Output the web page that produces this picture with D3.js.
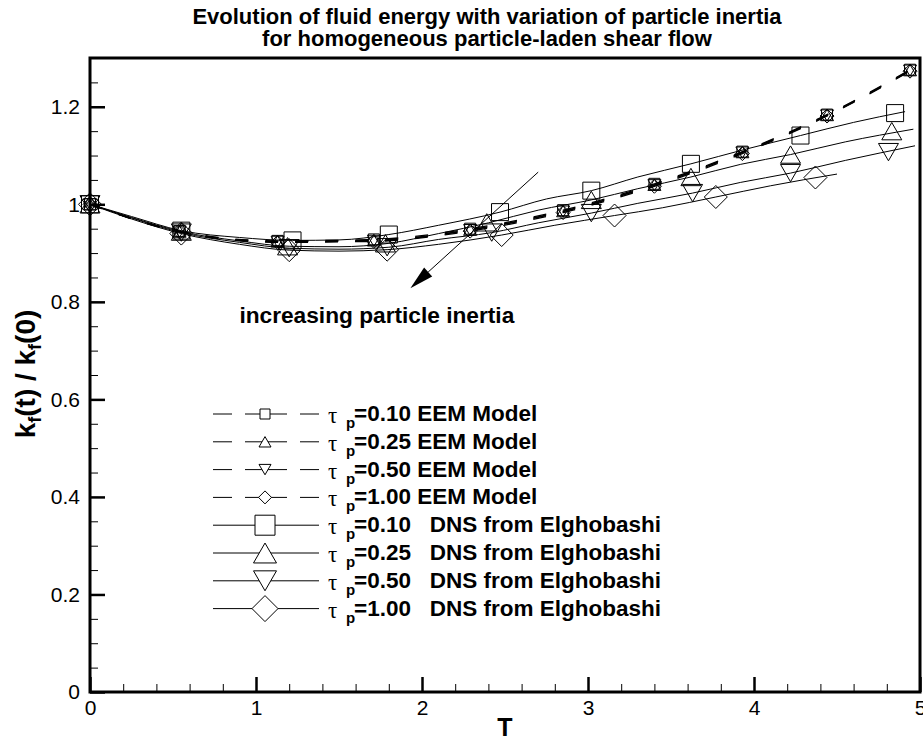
<!DOCTYPE html>
<meta charset="utf-8">
<script src="https://d3js.org/d3.v7.min.js"></script>
<style>
  body { margin: 0; background: #fff; }
  text { font-family: "Liberation Sans", Arial, Helvetica, sans-serif; }
</style>
<div id="chart"></div>
<script>
    // Title and axis text
    const titleLines = ["Evolution of fluid energy with variation of particle inertia",
                        "for homogeneous particle-laden shear flow"];
    const xTicks = [0, 1, 2, 3, 4, 5];
    const yTicks = [0, 0.2, 0.4, 0.6, 0.8, 1, 1.2];
    const yTickLabels = ["0", "0.2", "0.4", "0.6", "0.8", "1", "1.2"];

    // EEM model curves (all sampled at the same times, markers on every point)
    const T_eem   = [0, 0.54, 1.13, 1.71, 2.29, 2.85, 3.40, 3.93, 4.44, 4.94];
    const eem_010 = [1.0, 0.945, 0.925, 0.928, 0.950, 0.988, 1.042, 1.108, 1.184, 1.276];
    const eem_025 = [1.0, 0.944, 0.924, 0.926, 0.948, 0.986, 1.040, 1.107, 1.183, 1.275];
    const eem_050 = [1.0, 0.944, 0.923, 0.925, 0.947, 0.985, 1.039, 1.106, 1.182, 1.274];
    const eem_100 = [1.0, 0.943, 0.922, 0.924, 0.945, 0.983, 1.037, 1.104, 1.181, 1.273];

    // DNS from Elghobashi - lines
    const T_dns_010 = [0, 0.25, 0.55, 0.9, 1.22, 1.5, 1.8, 2.1, 2.47, 2.75, 3.02, 3.3, 3.62, 3.95, 4.28, 4.6, 4.91];
    const dns_010   = [1.0, 0.975, 0.946, 0.932, 0.926, 0.927, 0.938, 0.957, 0.984, 1.011, 1.028, 1.056, 1.083, 1.113, 1.141, 1.168, 1.190];
    const T_dns_025 = [0, 0.25, 0.55, 0.9, 1.2, 1.5, 1.8, 2.1, 2.4, 2.7, 3.02, 3.3, 3.62, 3.92, 4.22, 4.55, 4.96];
    const dns_025   = [1.0, 0.973, 0.944, 0.925, 0.914, 0.913, 0.920, 0.940, 0.962, 0.988, 1.009, 1.032, 1.056, 1.082, 1.102, 1.128, 1.154];
    const T_dns_050 = [0, 0.25, 0.55, 0.9, 1.2, 1.5, 1.8, 2.1, 2.42, 2.7, 3.02, 3.3, 3.63, 3.92, 4.22, 4.55, 4.97];
    const dns_050   = [1.0, 0.972, 0.942, 0.922, 0.910, 0.908, 0.912, 0.928, 0.942, 0.962, 0.982, 1.002, 1.023, 1.045, 1.064, 1.090, 1.120];
    const T_dns_100 = [0, 0.25, 0.55, 0.9, 1.2, 1.5, 1.79, 2.1, 2.48, 2.8, 3.16, 3.45, 3.77, 4.1, 4.5];
    const dns_100   = [1.0, 0.970, 0.940, 0.918, 0.906, 0.904, 0.907, 0.918, 0.937, 0.957, 0.977, 0.993, 1.015, 1.038, 1.062];

    // DNS - marker positions
    const mT_dns_010 = [0, 0.55, 1.22, 1.80, 2.47, 3.02, 3.62, 4.28, 4.85];
    const m_dns_010  = [1.0, 0.946, 0.926, 0.938, 0.984, 1.028, 1.083, 1.141, 1.187];
    const mT_dns_025 = [0, 0.55, 1.19, 1.78, 2.39, 3.02, 3.62, 4.22, 4.83];
    const m_dns_025  = [1.0, 0.944, 0.914, 0.920, 0.963, 1.009, 1.056, 1.102, 1.150];
    const mT_dns_050 = [0, 0.55, 1.20, 1.79, 2.42, 3.02, 3.63, 4.22, 4.81];
    const m_dns_050  = [1.0, 0.942, 0.910, 0.912, 0.942, 0.982, 1.023, 1.064, 1.107];
    const mT_dns_100 = [0, 0.55, 1.20, 1.79, 2.48, 3.16, 3.77, 4.37];
    const m_dns_100  = [1.0, 0.940, 0.906, 0.907, 0.937, 0.977, 1.015, 1.055];

    const legendTau = ["0.10", "0.25", "0.50", "1.00", "0.10", "0.25", "0.50", "1.00"];
    const legendText = ["EEM Model", "EEM Model", "EEM Model", "EEM Model",
                        "\u00a0 DNS from Elghobashi", "\u00a0 DNS from Elghobashi",
                        "\u00a0 DNS from Elghobashi", "\u00a0 DNS from Elghobashi"];
    const legendShape = ["square", "up", "down", "diamond", "square", "up", "down", "diamond"];

    // annotation (data coordinates)
    const arrowFrom = [2.70, 1.066], arrowTo = [1.93, 0.828];
    const noteText = "increasing particle inertia", notePos = [0.90, 0.757];

    const W = 923, H = 744;
    const margin = {top: 58, right: 3, bottom: 52, left: 90};

    const svg = d3.select("#chart")
                .append("svg")
                .attr("width", W)
                .attr("height", H);

    const x = d3.scaleLinear().domain([0, 5]).range([margin.left, W - margin.right]);
    const y = d3.scaleLinear().domain([0, 1.3]).range([H - margin.bottom, margin.top]);

    function shape(type, s) {
        const h = s / 2, th = s * 0.866;
        if (type === "square") return `M${-h},${-h}H${h}V${h}H${-h}Z`;
        if (type === "up") return `M0,${-th/2}L${h},${th/2}L${-h},${th/2}Z`;
        if (type === "down") return `M0,${th/2}L${h},${-th/2}L${-h},${-th/2}Z`;
        return `M0,${-h}L${h},0L0,${h}L${-h},0Z`;
    }

    // Title
    svg.append("g").selectAll("text")
        .data(titleLines)
        .join("text")
            .attr("x", 487)
            .attr("y", (d, i) => 24 + i * 22)
            .attr("text-anchor", "middle")
            .style("font-size", "22px")
            .style("font-weight", "bold")
            .text(d => d);

    // Axes with inward ticks
    const xAxis = svg.append("g")
        .attr("transform", `translate(0, ${y(0)})`)
        .call(d3.axisBottom(x).tickValues(xTicks).tickSize(-15).tickPadding(8).tickFormat(d3.format("d")));
    svg.append("g")
        .attr("transform", `translate(0, ${y(0)})`)
        .call(d3.axisBottom(x).tickValues(d3.range(0.2, 5, 0.2)).tickSize(-8).tickFormat(""));
    const yAxis = svg.append("g")
        .attr("transform", `translate(${x(0)}, 0)`)
        .call(d3.axisLeft(y).tickValues(yTicks).tickSize(-15).tickPadding(10).tickFormat((d, i) => yTickLabels[i]));
    svg.append("g")
        .attr("transform", `translate(${x(0)}, 0)`)
        .call(d3.axisLeft(y).tickValues(d3.range(0.05, 1.3, 0.05)).tickSize(-8).tickFormat(""));

    svg.selectAll(".domain").remove();
    svg.selectAll(".tick line").attr("stroke", "#000").attr("stroke-width", 1);
    xAxis.selectAll(".tick line").attr("stroke-width", 2.5);
    yAxis.selectAll(".tick line").attr("stroke-width", 2.5);
    svg.selectAll(".tick text")
        .attr("fill", "#000")
        .style("font-size", "21px")
        .style("font-family", "'Liberation Sans', Arial, sans-serif");

    // Frame
    svg.append("rect")
        .attr("x", x(0)).attr("y", y(1.3))
        .attr("width", x(5) - x(0)).attr("height", y(0) - y(1.3))
        .attr("fill", "none").attr("stroke", "#000").attr("stroke-width", 3);

    // Axis titles
    svg.append("text")
        .attr("x", x(2.5)).attr("y", 736)
        .attr("text-anchor", "middle")
        .style("font-size", "25px").style("font-weight", "bold")
        .text("T");

    const yl = svg.append("text")
        .attr("transform", "translate(35, 374) rotate(-90)")
        .attr("text-anchor", "middle")
        .style("font-size", "28px").style("font-weight", "bold");
    yl.append("tspan").text("k");
    yl.append("tspan").attr("dy", 6).style("font-size", "18px").text("f");
    yl.append("tspan").attr("dy", -6).text("(t) / k");
    yl.append("tspan").attr("dy", 6).style("font-size", "18px").text("f");
    yl.append("tspan").attr("dy", -6).text("(0)");

    // Curves
    const line = d3.line().x(d => x(d[0])).y(d => y(d[1])).curve(d3.curveMonotoneX);
    const eem = [eem_010, eem_025, eem_050, eem_100];
    const dnsT = [T_dns_010, T_dns_025, T_dns_050, T_dns_100];
    const dnsV = [dns_010, dns_025, dns_050, dns_100];
    const dnsMT = [mT_dns_010, mT_dns_025, mT_dns_050, mT_dns_100];
    const dnsMV = [m_dns_010, m_dns_025, m_dns_050, m_dns_100];
    const shapes = ["square", "up", "down", "diamond"];
    const dnsSize = {square: 17, up: 20, down: 20, diamond: 23};
    const eemSize = {square: 11, up: 13, down: 13, diamond: 14};

    dnsT.forEach((T, k) => {
        svg.append("path")
            .datum(T.map((t, i) => [t, dnsV[k][i]]))
            .attr("d", line)
            .attr("fill", "none").attr("stroke", "#000").attr("stroke-width", 1);
    });
    eem.forEach(v => {
        svg.append("path")
            .datum(T_eem.map((t, i) => [t, v[i]]))
            .attr("d", line)
            .attr("fill", "none").attr("stroke", "#000").attr("stroke-width", 1.3)
            .attr("stroke-dasharray", "13,17");
    });

    // Markers
    dnsMT.forEach((T, k) => {
        svg.append("g").selectAll("path")
            .data(T.map((t, i) => [t, dnsMV[k][i]]))
            .join("path")
                .attr("transform", d => `translate(${x(d[0])}, ${y(d[1])})`)
                .attr("d", shape(shapes[k], dnsSize[shapes[k]]))
                .attr("fill", "none").attr("stroke", "#000").attr("stroke-width", 1);
    });
    eem.forEach((v, k) => {
        svg.append("g").selectAll("path")
            .data(T_eem.map((t, i) => [t, v[i]]))
            .join("path")
                .attr("transform", d => `translate(${x(d[0])}, ${y(d[1])})`)
                .attr("d", shape(shapes[k], eemSize[shapes[k]]))
                .attr("fill", "none").attr("stroke", "#000").attr("stroke-width", 1);
    });

    // Annotation arrow
    const ax0 = x(arrowFrom[0]), ay0 = y(arrowFrom[1]), ax1 = x(arrowTo[0]), ay1 = y(arrowTo[1]);
    const ang = Math.atan2(ay1 - ay0, ax1 - ax0), aLen = 24, aW = 6;
    const bx = ax1 - aLen * Math.cos(ang), by = ay1 - aLen * Math.sin(ang);
    svg.append("line")
        .attr("x1", ax0).attr("y1", ay0).attr("x2", bx).attr("y2", by)
        .attr("stroke", "#000").attr("stroke-width", 1);
    svg.append("path")
        .attr("d", `M${ax1},${ay1}L${bx + aW * Math.sin(ang)},${by - aW * Math.cos(ang)}L${bx - aW * Math.sin(ang)},${by + aW * Math.cos(ang)}Z`)
        .attr("fill", "#000");
    svg.append("text")
        .attr("x", x(notePos[0])).attr("y", y(notePos[1]))
        .style("font-size", "22.7px").style("font-weight", "bold")
        .text(noteText);

    // Legend
    const legend = svg.append("g");
    legendTau.forEach((tau, i) => {
        const ly = 414 + i * 27.8, dashed = i < 4;
        const s = legendShape[i];
        legend.append("line")
            .attr("x1", 213).attr("x2", 319).attr("y1", ly).attr("y2", ly)
            .attr("stroke", "#000").attr("stroke-width", 1)
            .attr("stroke-dasharray", dashed ? "19,13,42,13,19" : null);
        legend.append("path")
            .attr("transform", `translate(265, ${ly})`)
            .attr("d", shape(s, dashed ? eemSize[s] - 1 : dnsSize[s] + 3))
            .attr("fill", "#fff").attr("stroke", "#000").attr("stroke-width", 1);
        const t = legend.append("text").attr("x", 328).attr("y", ly + 9);
        t.append("tspan").style("font-family", "'Liberation Serif', 'DejaVu Serif', serif")
            .style("font-size", "23px").text("\u03c4");
        t.append("tspan").attr("x", 346).attr("dy", 5)
            .style("font-size", "15px").style("font-weight", "bold").text("p");
        t.append("tspan").attr("x", 354).attr("dy", -7)
            .style("font-size", "22.5px").style("font-weight", "bold")
            .text("=" + tau + " " + legendText[i]);
    });
</script>
